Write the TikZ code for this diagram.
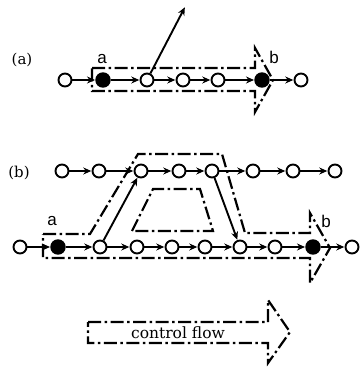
\documentclass[tikz,border=0pt]{standalone}
\usepackage{fontspec}
\setmainfont{DejaVu Serif}
\newfontfamily\lblfont{Liberation Sans}
\usetikzlibrary{arrows.meta}
\tikzset{
  opn/.style={circle,draw,line width=1.9pt,fill=white,minimum size=13pt,inner sep=0pt},
  fld/.style={circle,draw,line width=1.9pt,fill=black,minimum size=13.5pt,inner sep=0pt},
  conn/.style={line width=1.9pt,-{Stealth[length=8pt,width=7pt]},shorten >=0.3pt},
  flow/.style={line width=2.2pt,dash pattern=on 13pt off 3.5pt on 2.5pt off 3.5pt},
  lbl/.style={font=\lblfont\fontsize{17}{17}\selectfont,inner sep=0pt},
  plbl/.style={font=\fontsize{15}{15}\selectfont,inner sep=0pt},
}
\begin{document}
\begin{tikzpicture}[x=1pt,y=-1pt]
\useasboundingbox (0,0) rectangle (359,369);
% (a)
\node[plbl] (la) at (22,60) {(a)};
\draw[flow] (92,68) -- (255,68) -- (255,48) -- (273,80) -- (255,112) -- (255,91) -- (92,91) -- cycle;
\node[opn] (a0) at (65,80) {};
\node[fld] (a1) at (103,80) {};
\node[opn] (a2) at (147,80) {};
\node[opn] (a3) at (183,80) {};
\node[opn] (a4) at (218,80) {};
\node[fld] (a5) at (262,80) {};
\node[opn] (a6) at (301,80) {};
\coordinate (atop) at (185,7);
\foreach \i/\j in {a0/a1,a1/a2,a2/a3,a3/a4,a4/a5,a5/a6} \draw[conn] (\i) -- (\j);
\draw[conn] (a2) -- (atop);
\node[lbl] (na) at (102,59) {a};
\node[lbl] (nb) at (274,57) {b};
% (b)
\node[plbl] (lb) at (19,173) {(b)};
\draw[flow] (43,234) -- (90,234) -- (138,154) -- (222,154) -- (245,233) -- (310,233) -- (310,213) -- (330,248) -- (310,283) -- (310,258) -- (43,258) -- cycle;
\draw[flow] (132,231) -- (153,189) -- (200,189) -- (213,231) -- cycle;
\node[opn] (b0) at (62,171) {};
\node[opn] (b1) at (99,171) {};
\node[opn] (b2) at (141,171) {};
\node[opn] (b3) at (179,171) {};
\node[opn] (b4) at (212,171) {};
\node[opn] (b5) at (253,171) {};
\node[opn] (b6) at (293,171) {};
\node[opn] (b7) at (335,171) {};
\node[opn] (c0) at (20,247) {};
\node[fld] (c1) at (58,247) {};
\node[opn] (c2) at (100,247) {};
\node[opn] (c3) at (137,247) {};
\node[opn] (c4) at (172,247) {};
\node[opn] (c5) at (205,247) {};
\node[opn] (c6) at (240,247) {};
\node[opn] (c7) at (275,247) {};
\node[fld] (c8) at (313,247) {};
\node[opn] (c9) at (352,247) {};
\foreach \i/\j in {b0/b1,b1/b2,b2/b3,b3/b4,b4/b5,b5/b6,b6/b7,c0/c1,c1/c2,c2/c3,c3/c4,c4/c5,c5/c6,c6/c7,c7/c8,c8/c9} \draw[conn] (\i) -- (\j);
\draw[conn] (c2) -- (b2);
\draw[conn] (b4) -- (c6);
\node[lbl] (nba) at (52,221) {a};
\node[lbl] (nbb) at (326,221) {b};
% legend
\draw[flow] (88,322) -- (268,322) -- (268,300) -- (290,332) -- (268,363) -- (268,343) -- (88,343) -- cycle;
\node[font=\fontsize{15.5}{15.5}\selectfont,inner sep=0pt] (cf) at (178,333) {control flow};
\end{tikzpicture}
\end{document}
